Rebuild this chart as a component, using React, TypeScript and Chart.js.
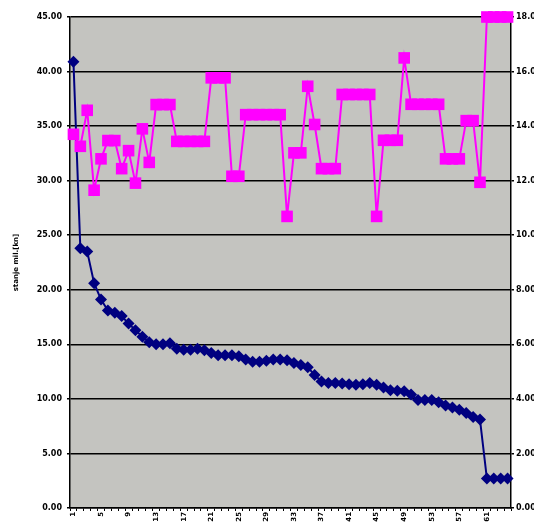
import React, { useEffect, useRef } from 'react';
import { Chart, registerables } from 'chart.js';

Chart.register(...registerables);

const categories = [
  '1', '2', '3', '4', '5', '6', '7', '8', '9', '10',
  '11', '12', '13', '14', '15', '16', '17', '18', '19', '20',
  '21', '22', '23', '24', '25', '26', '27', '28', '29', '30',
  '31', '32', '33', '34', '35', '36', '37', '38', '39', '40',
  '41', '42', '43', '44', '45', '46', '47', '48', '49', '50',
  '51', '52', '53', '54', '55', '56', '57', '58', '59', '60',
  '61', '62', '63', '64',
];

const blueValues = [
  40.9, 23.8, 23.5, 20.6, 19.1, 18.1, 17.9, 17.6, 16.9, 16.3,
  15.7, 15.2, 15.0, 15.0, 15.1, 14.6, 14.5, 14.5, 14.6, 14.45,
  14.2, 14.0, 14.0, 14.0, 13.9, 13.6, 13.4, 13.4, 13.5, 13.6,
  13.6, 13.55, 13.3, 13.1, 12.9, 12.2, 11.6, 11.45, 11.45, 11.4,
  11.35, 11.3, 11.35, 11.45, 11.3, 11.05, 10.8, 10.75, 10.7, 10.4,
  9.9, 9.9, 9.9, 9.7, 9.4, 9.2, 9.0, 8.7, 8.35, 8.1,
  2.7, 2.7, 2.7, 2.7,
];

const pinkValues = [
  13.7, 13.26, 14.58, 11.65, 12.8, 13.47, 13.47, 12.44, 13.1, 11.91,
  13.9, 12.67, 14.79, 14.79, 14.79, 13.44, 13.44, 13.44, 13.44, 13.44,
  15.77, 15.77, 15.77, 12.16, 12.16, 14.42, 14.42, 14.42, 14.42, 14.42,
  14.42, 10.69, 13.02, 13.02, 15.46, 14.06, 12.44, 12.44, 12.44, 15.16,
  15.16, 15.16, 15.16, 15.16, 10.69, 13.48, 13.48, 13.48, 16.5, 14.8,
  14.8, 14.8, 14.8, 14.8, 12.8, 12.8, 12.8, 14.2, 14.2, 11.94,
  18, 18, 18, 18,
];

const leftTickValues = [0, 5, 10, 15, 20, 25, 30, 35, 40, 45];
const rightTickValues = [0, 2, 4, 6, 8, 10, 12, 14, 16, 18];
const leftAxisTitle = 'stanje mil.[kn]';

const tickFont = { family: 'DejaVu Sans', size: 8, weight: 'bold' as const };

const plotBg = {
  id: 'plotBg',
  beforeDraw(chart: any) {
    const { ctx, chartArea: a } = chart;
    ctx.save();
    ctx.fillStyle = '#ffffff';
    ctx.fillRect(0, 0, chart.width, chart.height);
    ctx.fillStyle = '#c4c4c0';
    ctx.fillRect(a.left, a.top, a.right - a.left, a.bottom - a.top);
    ctx.restore();
  },
};

export default function App() {
  const ref = useRef<HTMLCanvasElement | null>(null);

  useEffect(() => {
    if (!ref.current) return;
    const chart = new Chart(ref.current, {
      type: 'line',
      data: {
        labels: categories,
        datasets: [
          {
            label: 'pink',
            data: pinkValues,
            yAxisID: 'y1',
            borderColor: '#ff00ff',
            backgroundColor: '#ff00ff',
            borderWidth: 2,
            pointStyle: 'rect',
            pointRadius: 8.2,
            pointBorderWidth: 0,
            tension: 0,
            clip: false as any,
            order: 1,
          },
          {
            label: 'blue',
            data: blueValues,
            yAxisID: 'y',
            borderColor: '#000080',
            backgroundColor: '#000080',
            borderWidth: 2,
            pointStyle: 'rectRot',
            pointRadius: 6,
            pointBorderWidth: 0,
            tension: 0,
            clip: false as any,
            order: 2,
          },
        ],
      },
      options: {
        animation: false,
        responsive: false,
        devicePixelRatio: 1,
        layout: { padding: { top: 17, left: 0, right: 0, bottom: 0 } },
        plugins: {
          legend: { display: false },
          tooltip: { enabled: false },
        },
        scales: {
          x: {
            type: 'category',
            offset: true,
            grid: {
              display: true,
              drawOnChartArea: false,
              drawTicks: true,
              tickLength: 3,
              color: '#000',
              lineWidth: 1,
              offset: true,
            },
            border: { display: true, color: '#000', width: 1.5 },
            ticks: {
              autoSkip: false,
              maxRotation: 90,
              minRotation: 90,
              padding: 1,
              color: '#000',
              font: { family: 'DejaVu Sans', size: 7, weight: 'bold' },
              callback: (_v: any, i: number) => (i % 4 === 0 ? categories[i] : ''),
            },
            afterFit: (s: any) => {
              s.height = 14;
            },
          },
          y: {
            position: 'left',
            min: 0,
            max: 45,
            afterBuildTicks: (s: any) => {
              s.ticks = leftTickValues.map((v) => ({ value: v }));
            },
            grid: { color: '#000', lineWidth: 1.5, tickLength: 3, drawTicks: true },
            border: { display: true, color: '#000', width: 1.5 },
            ticks: {
              padding: 5,
              color: '#000',
              font: tickFont,
              callback: (v: any) => Number(v).toFixed(2),
            },
            title: {
              display: true,
              text: leftAxisTitle,
              color: '#000',
              font: { family: 'DejaVu Sans', size: 7, weight: 'bold' },
              padding: { top: 12, bottom: 0 },
            },
            afterFit: (s: any) => {
              s.width = 70;
            },
          },
          y1: {
            position: 'right',
            min: 0,
            max: 18,
            afterBuildTicks: (s: any) => {
              s.ticks = rightTickValues.map((v) => ({ value: v }));
            },
            grid: { drawOnChartArea: false, color: '#000', tickLength: 3, lineWidth: 1.5 },
            border: { display: true, color: '#000', width: 1.5 },
            ticks: {
              padding: 2,
              color: '#000',
              font: tickFont,
              callback: (v: any) => Number(v).toFixed(2),
            },
            afterFit: (s: any) => {
              s.width = 23;
            },
          },
        },
      },
      plugins: [plotBg],
    });
    return () => chart.destroy();
  }, []);

  return (
    <div style={{ position: 'fixed', left: 0, top: 0, width: 534, height: 522, overflow: 'hidden', background: '#fff' }}>
      <canvas ref={ref} width={534} height={522} style={{ display: 'block' }} />
    </div>
  );
}
